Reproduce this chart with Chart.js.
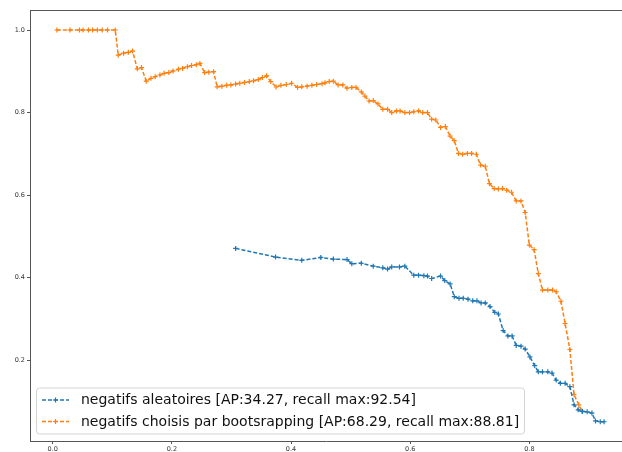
<!DOCTYPE html>
<html>
<head>
<meta charset="utf-8">
<script src="https://cdn.jsdelivr.net/npm/chart.js@4/dist/chart.umd.min.js"></script>
<style>
  html, body { margin: 0; padding: 0; background: #fff; }
  #wrap { width: 622px; height: 452px; position: relative; }
</style>
</head>
<body>
<div id="wrap"><canvas id="c" width="622" height="452"></canvas></div>
<script>
// ---- data ----
const seriesLabels = [
  "negatifs aleatoires [AP:34.27, recall max:92.54]",
  "negatifs choisis par bootsrapping [AP:68.29, recall max:88.81]"
];

const randRecall = [0.307,0.374,0.418,0.450,0.471,0.494,0.502,0.518,0.538,0.554,0.562,0.569,0.582,0.591,0.606,0.614,0.623,0.629,0.636,0.651,0.658,0.667,0.674,0.682,0.689,0.697,0.705,0.712,0.719,0.726,0.734,0.742,0.748,0.756,0.764,0.771,0.778,0.786,0.793,0.801,0.809,0.815,0.822,0.831,0.838,0.845,0.852,0.860,0.868,0.875,0.882,0.889,0.897,0.905,0.911,0.919,0.9254];
const randPrecision = [0.471,0.450,0.442,0.449,0.445,0.444,0.434,0.435,0.428,0.424,0.421,0.426,0.426,0.428,0.406,0.406,0.405,0.404,0.398,0.404,0.393,0.385,0.354,0.350,0.350,0.348,0.344,0.344,0.339,0.339,0.330,0.316,0.312,0.272,0.259,0.259,0.236,0.234,0.227,0.208,0.187,0.172,0.172,0.172,0.169,0.152,0.144,0.144,0.136,0.092,0.080,0.076,0.075,0.072,0.053,0.051,0.051];

const bootRecall = [0.007,0.029,0.045,0.051,0.060,0.067,0.075,0.083,0.092,0.105,
  0.110,0.119,0.127,0.134,0.142,0.149,0.157,0.165,0.172,0.180,0.187,0.195,0.202,0.211,0.218,0.226,0.233,0.241,0.247,
  0.255,0.262,0.270,
  0.276,0.284,0.292,0.299,0.307,0.314,0.322,0.330,0.337,0.345,0.352,0.359,
  0.366,0.375,0.383,0.392,0.401,0.411,0.418,0.427,0.435,0.443,0.452,0.457,0.464,0.471,
  0.479,0.487,0.494,0.502,0.509,0.518,0.524,0.531,0.538,0.546,0.554,0.562,0.569,0.577,0.583,0.591,0.599,0.606,0.614,0.621,0.629,
  0.636,0.643,0.651,0.659,0.667,0.674,0.681,0.688,0.696,0.703,0.711,0.718,0.726,0.733,0.741,0.748,0.755,0.762,0.770,
  0.778,0.786,0.793,0.800,0.808,0.815,0.822,0.831,0.839,0.845,0.853,0.860,0.868,0.875,0.883,0.8881];
const bootPrecision = [1.0,1.0,1.0,1.0,1.0,1.0,1.0,1.0,1.0,1.0,
  0.939,0.944,0.946,0.949,0.906,0.909,0.876,0.883,0.887,0.891,0.895,0.897,0.901,0.905,0.907,0.911,0.914,0.916,0.919,
  0.897,0.898,0.899,
  0.8625,0.864,0.866,0.867,0.869,0.871,0.873,0.875,0.877,0.880,0.885,0.889,
  0.875,0.862,0.866,0.868,0.871,0.861,0.8625,0.864,0.866,0.868,0.870,0.872,0.875,0.876,
  0.867,0.867,0.859,0.861,0.861,0.850,0.840,0.828,0.829,0.821,0.808,0.808,0.800,0.804,0.804,0.800,0.800,0.802,0.804,0.800,0.800,
  0.784,0.782,0.764,0.766,0.743,0.732,0.701,0.699,0.701,0.701,0.699,0.673,0.670,0.628,0.616,0.615,0.616,0.612,0.607,
  0.586,0.586,0.558,0.479,0.468,0.410,0.370,0.370,0.370,0.366,0.343,0.289,0.226,0.117,0.092,0.077];

const xTicks = [0.0, 0.2, 0.4, 0.6, 0.8];
const yTicks = [0.2, 0.4, 0.6, 0.8, 1.0];

// ---- chart ----
const toPoints = (xs, ys) => xs.map((x, i) => ({ x: x, y: ys[i] }));
const BLUE = '#1f77b4', ORANGE = '#ff7f0e';
const AXIS = '#555555';
const FONT = "'DejaVu Sans', sans-serif";

const framePlugin = {
  id: 'frame',
  afterDraw(chart) {
    const ctx = chart.ctx, a = chart.chartArea;
    ctx.save();
    ctx.strokeStyle = AXIS;
    ctx.lineWidth = 1;
    ctx.beginPath();
    ctx.moveTo(a.left, a.top + 0.5);
    ctx.lineTo(a.right, a.top + 0.5);
    ctx.stroke();
    ctx.restore();
  }
};

const legendPlugin = {
  id: 'insideLegend',
  afterDraw(chart) {
    const ctx = chart.ctx;
    const ds = chart.data.datasets;
    const x0 = 36.5, y0 = 388, w = 488, h = 46, r = 3;
    ctx.save();
    ctx.fillStyle = 'rgba(255,255,255,0.8)';
    ctx.strokeStyle = '#d5d5d5';
    ctx.lineWidth = 1;
    ctx.beginPath();
    ctx.moveTo(x0 + r, y0);
    ctx.lineTo(x0 + w - r, y0);
    ctx.arcTo(x0 + w, y0, x0 + w, y0 + r, r);
    ctx.lineTo(x0 + w, y0 + h - r);
    ctx.arcTo(x0 + w, y0 + h, x0 + w - r, y0 + h, r);
    ctx.lineTo(x0 + r, y0 + h);
    ctx.arcTo(x0, y0 + h, x0, y0 + h - r, r);
    ctx.lineTo(x0, y0 + r);
    ctx.arcTo(x0, y0, x0 + r, y0, r);
    ctx.closePath();
    ctx.fill();
    ctx.stroke();
    ctx.font = '14px ' + FONT;
    ctx.textBaseline = 'middle';
    ds.forEach((d, i) => {
      const cy = 400 + i * 21.5;
      ctx.strokeStyle = d.borderColor;
      ctx.lineWidth = 1.5;
      ctx.setLineDash([4, 2]);
      ctx.beginPath();
      ctx.moveTo(42, cy);
      ctx.lineTo(69, cy);
      ctx.stroke();
      ctx.setLineDash([]);
      ctx.lineWidth = 1.2;
      ctx.beginPath();
      ctx.moveTo(55.5 - 2.5, cy); ctx.lineTo(55.5 + 2.5, cy);
      ctx.moveTo(55.5, cy - 2.5); ctx.lineTo(55.5, cy + 2.5);
      ctx.stroke();
      ctx.fillStyle = '#111';
      ctx.fillText(d.label, 81, cy + 0.5);
    });
    ctx.restore();
  }
};

const tickFont = { family: FONT, size: 6.5 };

new Chart(document.getElementById('c'), {
  type: 'line',
  data: {
    datasets: [
      {
        label: seriesLabels[0],
        data: toPoints(randRecall, randPrecision),
        borderColor: BLUE, backgroundColor: BLUE,
        borderWidth: 1.5, borderDash: [4, 2],
        pointStyle: 'cross', pointRadius: 2.5, pointBorderWidth: 1.2,
        pointBorderColor: BLUE, fill: false, tension: 0
      },
      {
        label: seriesLabels[1],
        data: toPoints(bootRecall, bootPrecision),
        borderColor: ORANGE, backgroundColor: ORANGE,
        borderWidth: 1.5, borderDash: [4, 2],
        pointStyle: 'cross', pointRadius: 2.5, pointBorderWidth: 1.2,
        pointBorderColor: ORANGE, fill: false, tension: 0
      }
    ]
  },
  options: {
    responsive: false,
    animation: false,
    devicePixelRatio: 1,
    layout: { autoPadding: false, padding: { top: 10, right: 0, bottom: 0, left: 0 } },
    plugins: { legend: { display: false }, tooltip: { enabled: false } },
    scales: {
      x: {
        type: 'linear',
        min: -0.0381, max: 0.9555,
        afterBuildTicks: s => { s.ticks = xTicks.map(v => ({ value: v })); },
        afterFit: s => { s.height = 11; s.paddingLeft = 0; s.paddingRight = 0; },
        ticks: {
          font: tickFont, color: '#333', padding: 1, maxRotation: 0, autoSkip: false,
          callback: v => Number(v).toFixed(1)
        },
        grid: { drawOnChartArea: false, drawTicks: true, tickLength: 3, color: AXIS },
        border: { display: true, color: AXIS, width: 1 }
      },
      y: {
        type: 'linear',
        min: 0.0044, max: 1.0485,
        afterBuildTicks: s => { s.ticks = yTicks.map(v => ({ value: v })); },
        afterFit: s => { s.width = 30; s.paddingTop = 0; s.paddingBottom = 0; },
        ticks: {
          font: tickFont, color: '#333', padding: 2,
          callback: v => Number(v).toFixed(1)
        },
        grid: { drawOnChartArea: false, drawTicks: true, tickLength: 3, color: AXIS },
        border: { display: true, color: AXIS, width: 1 }
      }
    }
  },
  plugins: [framePlugin, legendPlugin]
});
</script>
</body>
</html>
